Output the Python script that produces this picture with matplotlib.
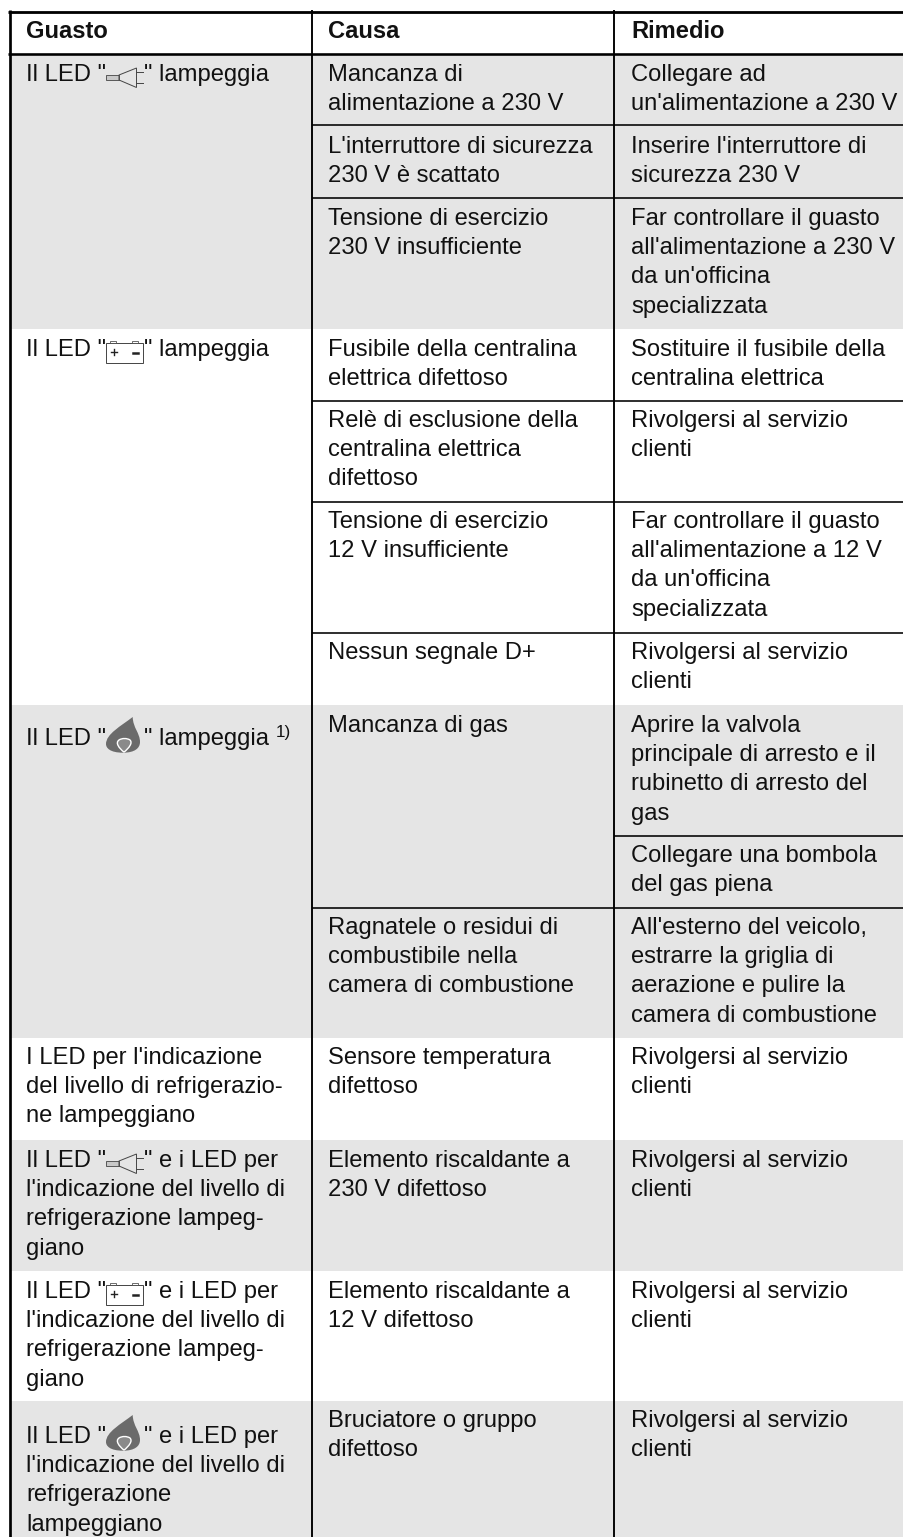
import matplotlib
matplotlib.use("Agg")
import matplotlib.pyplot as plt
from matplotlib.path import Path
from matplotlib.patches import PathPatch, Polygon, Rectangle

plt.rcParams['font.family'] = ['Liberation Sans', 'DejaVu Sans']

# table text
headers = ["Guasto", "Causa", "Rimedio"]
guasto = [
    ['Il LED "{plug}" lampeggia'],
    ['Il LED "{batt}" lampeggia'],
    ['Il LED "{flame}" lampeggia'],
    ["I LED per l'indicazione", "del livello di refrigerazio-", "ne lampeggiano"],
    ['Il LED "{plug}" e i LED per', "l'indicazione del livello di", "refrigerazione lampeg-", "giano"],
    ['Il LED "{batt}" e i LED per', "l'indicazione del livello di", "refrigerazione lampeg-", "giano"],
    ['Il LED "{flame}" e i LED per', "l'indicazione del livello di", "refrigerazione", "lampeggiano"],
]
causa = [
    ["Mancanza di", "alimentazione a 230 V"],
    ["L'interruttore di sicurezza", "230 V è scattato"],
    ["Tensione di esercizio", "230 V insufficiente"],
    ["Fusibile della centralina", "elettrica difettoso"],
    ["Relè di esclusione della", "centralina elettrica", "difettoso"],
    ["Tensione di esercizio", "12 V insufficiente"],
    ["Nessun segnale D+"],
    ["Mancanza di gas"],
    ["Ragnatele o residui di", "combustibile nella", "camera di combustione"],
    ["Sensore temperatura", "difettoso"],
    ["Elemento riscaldante a", "230 V difettoso"],
    ["Elemento riscaldante a", "12 V difettoso"],
    ["Bruciatore o gruppo", "difettoso"],
]
rimedio = [
    ["Collegare ad", "un'alimentazione a 230 V"],
    ["Inserire l'interruttore di", "sicurezza 230 V"],
    ["Far controllare il guasto", "all'alimentazione a 230 V", "da un'officina", "specializzata"],
    ["Sostituire il fusibile della", "centralina elettrica"],
    ["Rivolgersi al servizio", "clienti"],
    ["Far controllare il guasto", "all'alimentazione a 12 V", "da un'officina", "specializzata"],
    ["Rivolgersi al servizio", "clienti"],
    ["Aprire la valvola", "principale di arresto e il", "rubinetto di arresto del", "gas"],
    ["Collegare una bombola", "del gas piena"],
    ["All'esterno del veicolo,", "estrarre la griglia di", "aerazione e pulire la", "camera di combustione"],
    ["Rivolgersi al servizio", "clienti"],
    ["Rivolgersi al servizio", "clienti"],
    ["Rivolgersi al servizio", "clienti"],
    ["Rivolgersi al servizio", "clienti"],
]

# layout, all in image pixels
W, H = 904, 1537
col_x = [9.7, 312.5, 614.5]
text_x = [26, 328, 631]
header_y = 37.5
guasto_y = [81, 356, 745, 1064, 1167, 1298, 1443]
causa_y = [81, 153, 225, 356, 427, 528, 659, 732, 934, 1064, 1167, 1298, 1427]
rimedio_y = [81, 153, 225, 356, 427, 528, 659, 732, 862, 934, 1064, 1167, 1298, 1427]
gray_bands = [(55, 329), (705, 1038), (1140, 1271), (1401, 1537)]
rules_two_cols = [125.3, 198, 401, 501.8, 632.8, 907.8]
rules_last_col = [835.8]
line_pitch = 29.2
font_px = 23.7
icon_x = 106
after_icon_x = 144.5
GRAY = "#e5e5e5"
INK = "#111111"

px = 72 / 100  # points per pixel at dpi 100
fs = font_px * px

fig = plt.figure(figsize=(W / 100, H / 100), dpi=100)
ax = fig.add_axes([0, 0, 1, 1])
ax.set_xlim(0, W)
ax.set_ylim(H, 0)
ax.axis("off")


def draw_plug(x, y):
    ax.add_patch(Rectangle((x, y - 6), 13, 5, fc="#c8c8c8", ec="#444444", lw=0.6, zorder=3))
    ax.add_patch(Polygon([(x + 13, y - 6), (x + 30.5, y - 13), (x + 30.5, y + 6.5), (x + 13, y - 1)],
                         closed=True, fc="none", ec="#444444", lw=0.7, zorder=3))
    ax.plot([x + 30.5, x + 37], [y - 9, y - 9], color="#444444", lw=0.7, zorder=3)
    ax.plot([x + 30.5, x + 37], [y + 1.5, y + 1.5], color="#444444", lw=0.7, zorder=3)


def draw_batt(x, y):
    ax.add_patch(Rectangle((x + 0.3, y - 12.7), 36.4, 19.4, fc="none", ec="#444444", lw=0.7, zorder=3))
    ax.add_patch(Rectangle((x + 4, y - 14.7), 6, 2, fc="none", ec="#555555", lw=0.6, zorder=3))
    ax.add_patch(Rectangle((x + 26, y - 14.7), 6, 2, fc="none", ec="#555555", lw=0.6, zorder=3))
    ax.plot([x + 5, x + 11.5], [y - 4, y - 4], color="#222222", lw=1.0, zorder=3)
    ax.plot([x + 8.3, x + 8.3], [y - 7.2, y - 0.8], color="#222222", lw=1.0, zorder=3)
    ax.plot([x + 27.5, x + 32.5], [y - 3, y - 3], color="#222222", lw=1.8, zorder=3)


def draw_flame(x, y):
    verts = [(x + 26.7, y - 28), (x + 15, y - 19), (x + 0, y - 11), (x + 0, y - 1),
             (x + 0, y + 3), (x + 4, y + 7.7), (x + 17, y + 7.7),
             (x + 29, y + 7.7), (x + 34, y + 3), (x + 34, y - 3),
             (x + 34, y - 12), (x + 27, y - 17), (x + 26.7, y - 28)]
    codes = [Path.MOVETO] + [Path.CURVE4] * 12
    ax.add_patch(PathPatch(Path(verts, codes), fc="#6b6b6b", ec="none", zorder=3))
    inner = [(x + 18, y + 7.2), (x + 13, y + 3), (x + 9, y - 2), (x + 13, y - 5),
             (x + 16, y - 7), (x + 21, y - 7), (x + 24, y - 5),
             (x + 27, y - 2), (x + 23, y + 3), (x + 18, y + 7.2)]
    codes = [Path.MOVETO] + [Path.CURVE4] * 9
    ax.add_patch(PathPatch(Path(inner, codes), fc="#8a8a8a", ec="white", lw=1.0, zorder=4))


icons = {"plug": draw_plug, "batt": draw_batt, "flame": draw_flame}


def put(x, y, s, **kw):
    ax.text(x, y, s, fontsize=fs, color=INK, va="baseline", ha="left", zorder=5, **kw)


def put_cell(x, y0, lines):
    for i, line in enumerate(lines):
        y = y0 + i * line_pitch
        if "{" in line:
            # first line holds an icon between the quotes
            head, rest = line.split("{")
            name, tail = rest.split("}")
            put(x, y, head)
            icons[name](icon_x, y)
            put(after_icon_x, y, tail)
        else:
            put(x, y, line)


# gray bands stop at the left rule, the margin stays white
for top, bottom in gray_bands:
    ax.fill_between([col_x[0], W], top, bottom, color=GRAY, lw=0, zorder=0)

ax.hlines([11.7], col_x[0] - 1.3, W, color="black", lw=2.8 * px, zorder=2)
ax.hlines([53.5], col_x[0] - 1.3, W, color="black", lw=2.6 * px, zorder=2)
ax.vlines([col_x[0]], 10.3, H, color="black", lw=2.7 * px, zorder=2)
ax.vlines(col_x[1:], 10.3, H, color="black", lw=1.9 * px, zorder=2)
ax.hlines(rules_two_cols, col_x[1], W, color="black", lw=1.6 * px, zorder=2)
ax.hlines(rules_last_col, col_x[2], W, color="black", lw=1.6 * px, zorder=2)

for x, label in zip(text_x, headers):
    put(x, header_y, label, fontweight="bold")

for y, lines in zip(guasto_y, guasto):
    put_cell(text_x[0], y, lines)
for y, lines in zip(causa_y, causa):
    put_cell(text_x[1], y, lines)
for y, lines in zip(rimedio_y, rimedio):
    put_cell(text_x[2], y, lines)

ax.text(276, 737, "1)", fontsize=17 * px, color=INK, va="baseline", ha="left", zorder=5)

fig.savefig("out.png", dpi=100)
